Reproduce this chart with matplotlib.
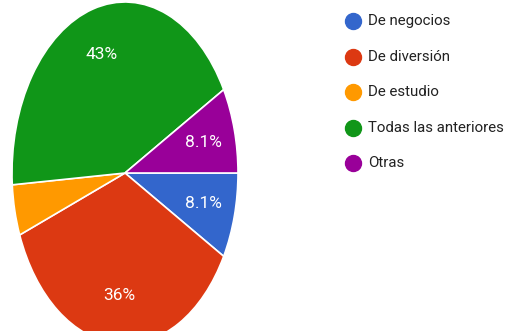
import matplotlib
matplotlib.use("Agg")
import matplotlib.pyplot as plt
import numpy as np

labels = ["De negocios", "De diversión", "De estudio", "Todas las anteriores", "Otras"]
values = [8.1, 36, 4.8, 43, 8.1]
pct_text = ["8.1%", "36%", "", "43%", "8.1%"]
colors = ["#3366CC", "#DC3912", "#FF9900", "#109618", "#990099"]

plt.rcParams["font.family"] = ["Roboto", "DejaVu Sans"]

fig = plt.figure(figsize=(5.06, 3.31), dpi=100)

# pie is drawn in an axes with free aspect, so it comes out as a tall ellipse
ax = fig.add_axes([12 / 506, -13 / 331, 226 / 506, 342 / 331])
wedges, _ = ax.pie(values, colors=colors, startangle=0, counterclock=False,
                   radius=1.0, wedgeprops=dict(edgecolor="white", linewidth=1.2))
ax.set_aspect("auto")
ax.set_xlim(-1.0, 1.0)
ax.set_ylim(-1.0, 1.0)
ax.axis("off")

# percentage labels inside the slices
total = sum(values)
start = 0.0
for v, t in zip(values, pct_text):
    mid = start - v / total * 360 / 2
    start -= v / total * 360
    if not t:
        continue
    r = 0.72
    ax.text(r * np.cos(np.radians(mid)), r * np.sin(np.radians(mid)), t,
            ha="center", va="center", color="white", fontsize=12.5)

# legend on the right
lax = fig.add_axes([0, 0, 1, 1])
lax.set_xlim(0, 506)
lax.set_ylim(331, 0)
lax.axis("off")
for i, (lab, c) in enumerate(zip(labels, colors)):
    y = 21 + 35.6 * i
    lax.plot(353, y, "o", color=c, markersize=11.5)
    lax.text(368, y, lab, va="center", ha="left", fontsize=10.8, color="#222222")

fig.savefig("out.png", dpi=100)
